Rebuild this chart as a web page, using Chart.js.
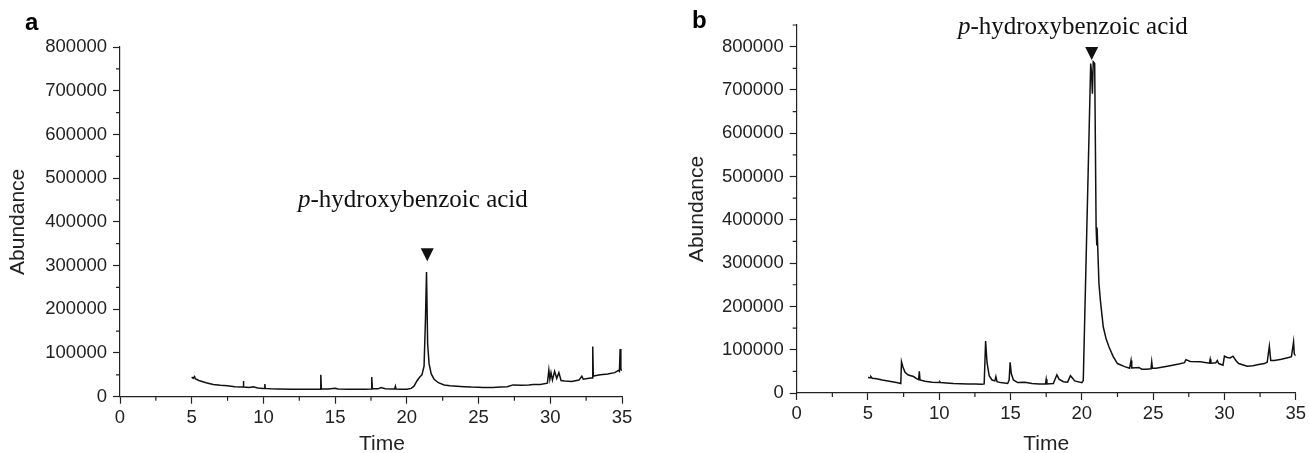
<!DOCTYPE html>
<html>
<head>
<meta charset="utf-8">
<script src="https://cdn.jsdelivr.net/npm/chart.js@4.4.1/dist/chart.umd.min.js"></script>
<style>
  body { margin: 0; background: #fff; }
  #wrap { position: relative; width: 1309px; height: 453px; }
  canvas { position: absolute; top: 0; }
  #chartA { left: 0; }
  #chartB { left: 655px; }
</style>
</head>
<body>
<div id="wrap">
  <canvas id="chartA" width="655" height="453"></canvas>
  <canvas id="chartB" width="654" height="453"></canvas>
</div>
<script>
// axis ticks
const xTicks = [0, 5, 10, 15, 20, 25, 30, 35];
const xMinor = [2.5, 7.5, 12.5, 17.5, 22.5, 27.5, 32.5];
const yTicks = [0, 100000, 200000, 300000, 400000, 500000, 600000, 700000, 800000];
const yMinorA = [50000, 150000, 250000, 350000, 450000, 550000, 650000, 750000];
const yMinorB = [50000, 150000, 250000, 350000, 450000, 550000, 650000, 750000, 850000];

const compound = ["p", "-hydroxybenzoic acid"];

// panel a chromatogram (time, abundance)
const timeA = [5.0, 5.1, 5.2, 5.25, 5.5, 6.0, 6.5, 7.0, 7.5, 8.0, 8.5, 8.58, 8.6, 8.63, 9.0, 9.3, 9.6,
  10.0, 10.08, 10.1, 10.13, 10.5, 11.0, 12.0, 13.0, 13.9, 13.97, 14.0, 14.04, 14.5, 15.0, 15.2, 16.0,
  17.0, 17.5, 17.55, 17.6, 18.0, 18.2, 18.5, 19.0, 19.15, 19.2, 19.25, 19.6, 20.0, 20.3, 20.5, 20.7,
  20.9, 21.05, 21.2, 21.3, 21.37, 21.45, 21.55, 21.7, 21.9, 22.2, 22.6, 23.0, 23.5, 24.0, 24.5, 25.0,
  25.3, 26.0, 26.5, 27.0, 27.4, 28.0, 28.5, 28.8, 29.3, 29.8, 29.9, 29.97, 30.05, 30.15, 30.3, 30.45,
  30.6, 30.75, 31.0, 31.5, 32.0, 32.2, 32.3, 32.8, 32.93, 32.96, 33.0, 33.1, 33.5, 34.0, 34.5, 34.75,
  34.82, 34.87, 34.92, 35.0];
const abundA = [45000, 42000, 46000, 41000, 37000, 32000, 28000, 26000, 25000, 23000, 22000, 22000, 36000, 22000, 21000, 22500, 20000,
  19000, 19000, 29000, 19000, 18000, 17500, 17000, 17000, 17000, 17000, 50000, 18000, 17500, 19500, 17500, 17000,
  17000, 17500, 45000, 18000, 18000, 21000, 18000, 17500, 17500, 24000, 17500, 17000, 17000, 19000, 24000, 36000,
  45000, 50000, 70000, 180000, 285000, 120000, 75000, 52000, 40000, 32000, 27000, 25000, 24000, 23000, 22000, 21500,
  21000, 21000, 22000, 23000, 27000, 26000, 27000, 28000, 28000, 31000, 61000, 40000, 55000, 38000, 58000, 42000,
  55000, 37000, 36000, 35000, 38000, 47000, 40000, 43000, 43000, 115000, 47000, 48000, 50000, 52000, 55000, 60000,
  58000, 109000, 62000, 60000];

// panel b chromatogram (time, abundance)
const timeB = [5.0, 5.15, 5.2, 5.3, 5.6, 6.0, 6.5, 7.0, 7.3, 7.35, 7.45, 7.6, 7.8, 8.0, 8.2, 8.4, 8.55, 8.6, 8.65,
  9.0, 9.5, 10.0, 10.05, 10.1, 10.5, 11.0, 11.5, 12.0, 12.5, 13.0, 13.15, 13.25, 13.35, 13.5, 13.7, 13.9,
  13.97, 14.05, 14.3, 14.8, 14.9, 14.97, 15.05, 15.2, 15.5, 16.0, 16.5, 17.0, 17.45, 17.5, 17.55, 18.0, 18.1,
  18.25, 18.4, 18.7, 19.0, 19.2, 19.35, 19.5, 20.0, 20.1, 20.62, 20.68, 20.74, 20.8, 20.9, 21.0, 21.05, 21.07,
  21.2, 21.3, 21.5, 21.7, 21.9, 22.2, 22.5, 23.0, 23.35, 23.45, 23.5, 24.0, 24.2, 24.5, 24.85, 24.9, 24.95,
  25.2, 26.0, 26.8, 27.2, 27.3, 27.6, 28.3, 28.95, 29.0, 29.05, 29.4, 29.5, 29.6, 29.9, 30.0, 30.2, 30.4, 30.6,
  30.8, 31.0, 31.6, 32.0, 32.4, 32.8, 33.0, 33.15, 33.25, 33.5, 34.0, 34.5, 34.7, 34.85, 34.9, 35.0];
const abundB = [36000, 35000, 38000, 34000, 33000, 30000, 27000, 24000, 22000, 72000, 60000, 48000, 42000, 40000, 38000, 33000, 31000, 50000, 30000,
  27000, 25000, 24000, 26000, 24000, 23000, 22000, 21500, 21000, 21000, 20500, 21000, 120000, 70000, 40000, 30000, 28000,
  38000, 26000, 24000, 22000, 30000, 71000, 45000, 30000, 24000, 25000, 22000, 21000, 21000, 32000, 21000, 22000, 30000,
  42000, 32000, 26000, 25000, 40000, 34000, 28000, 24000, 29000, 761000, 740000, 691000, 765000, 761000, 383000, 341000, 380000,
  253000, 214000, 153000, 125000, 107000, 84000, 68000, 61000, 57000, 75000, 58000, 59000, 55000, 55000, 56000, 72000, 57000,
  57000, 62000, 67000, 70000, 77000, 73000, 72000, 69000, 78000, 69000, 70000, 75000, 68000, 64000, 85000, 82000, 81000, 85000,
  75000, 68000, 62000, 63000, 66000, 68000, 71000, 108000, 75000, 75000, 78000, 82000, 84000, 118000, 90000, 86000];

const ink = '#222';
const sans = '"Liberation Sans", Arial, sans-serif';

const extras = {
  id: 'extras',
  afterDraw(chart, args, opts) {
    const { ctx, scales: { x, y } } = chart;
    ctx.save();
    // minor ticks
    ctx.strokeStyle = ink;
    ctx.lineWidth = 1.2;
    ctx.beginPath();
    opts.xMinor.forEach(v => {
      const px = x.getPixelForValue(v);
      ctx.moveTo(px, y.bottom);
      ctx.lineTo(px, y.bottom + 4);
    });
    opts.yMinor.forEach(v => {
      const py = y.getPixelForValue(v);
      ctx.moveTo(x.left, py);
      ctx.lineTo(x.left - 4, py);
    });
    ctx.stroke();

    // x axis title (the one in panel a sits a bit right of centre)
    ctx.fillStyle = ink;
    ctx.font = '21px ' + sans;
    ctx.textAlign = 'center';
    ctx.textBaseline = 'alphabetic';
    ctx.fillText('Time', (x.left + x.right) / 2 + opts.titleShift, 450);

    // peak marker
    const tx = x.getPixelForValue(opts.marker[0]);
    const ty = y.getPixelForValue(opts.marker[1]);
    ctx.fillStyle = '#111';
    ctx.beginPath();
    ctx.moveTo(tx, ty);
    ctx.lineTo(tx - 6.5, ty - 13);
    ctx.lineTo(tx + 6.5, ty - 13);
    ctx.closePath();
    ctx.fill();

    // compound name
    let lx = x.getPixelForValue(opts.label[0]);
    const ly = y.getPixelForValue(opts.label[1]);
    ctx.textAlign = 'left';
    ctx.font = 'italic 25px "Liberation Serif", serif';
    ctx.fillText(compound[0], lx, ly);
    lx += ctx.measureText(compound[0]).width;
    ctx.font = '25px "Liberation Serif", serif';
    ctx.fillText(compound[1], lx, ly);

    // panel letter
    ctx.fillStyle = '#000';
    ctx.font = 'bold 24px ' + sans;
    ctx.fillText(opts.letter, opts.letterPos[0], opts.letterPos[1]);
    ctx.restore();
  }
};

function makeChart(id, times, values, o) {
  return new Chart(document.getElementById(id), {
    type: 'line',
    data: {
      datasets: [{
        data: times.map((t, i) => ({ x: t, y: values[i] })),
        borderColor: '#111',
        borderWidth: 1.5,
        pointRadius: 0,
        tension: 0,
        fill: false
      }]
    },
    options: {
      responsive: false,
      animation: false,
      devicePixelRatio: 1,
      layout: { padding: o.padding },
      plugins: {
        legend: { display: false },
        tooltip: { enabled: false },
        extras: o.extras
      },
      scales: {
        x: {
          type: 'linear',
          min: 0,
          max: 35,
          afterBuildTicks: s => { s.ticks = xTicks.map(v => ({ value: v })); },
          afterFit: s => { s.height = o.xHeight; },
          grid: { drawOnChartArea: false, tickLength: 7, tickColor: ink, tickWidth: 1.2 },
          border: { display: true, color: ink, width: 1.2 },
          ticks: { color: ink, font: { family: sans, size: 18.5 }, padding: 3, maxRotation: 0, callback: v => String(v) },
          title: { display: false }
        },
        y: {
          min: 0,
          max: o.yMax,
          afterBuildTicks: s => { s.ticks = yTicks.map(v => ({ value: v })); },
          afterFit: s => { s.width = o.yWidth; },
          grid: { drawOnChartArea: false, tickLength: 7, tickColor: ink, tickWidth: 1.2 },
          border: { display: true, color: ink, width: 1.2 },
          ticks: { color: ink, font: { family: sans, size: 18.5 }, padding: 6, callback: v => String(v) },
          title: { display: true, text: 'Abundance', color: ink, font: { family: sans, size: 21 }, padding: { top: o.yTitlePad, bottom: 0 } }
        }
      }
    },
    plugins: [extras]
  });
}

makeChart('chartA', timeA, abundA, {
  padding: { top: 47, right: 33, bottom: 0, left: 0 },
  xHeight: 56.3,
  yWidth: 120,
  yMax: 800000,
  yTitlePad: 5.4,
  extras: { xMinor: xMinor, yMinor: yMinorA, titleShift: 11, marker: [21.42, 310000], label: [12.41, 434000], letter: 'a', letterPos: [25, 30] }
});

makeChart('chartB', timeB, abundB, {
  padding: { top: 25, right: 13, bottom: 0, left: 0 },
  xHeight: 60,
  yWidth: 141.7,
  yMax: 850000,
  yTitlePad: 29.4,
  extras: { xMinor: xMinor, yMinor: yMinorB, titleShift: 0, marker: [20.69, 769000], label: [11.31, 830000], letter: 'b', letterPos: [37, 28] }
});
</script>
</body>
</html>
